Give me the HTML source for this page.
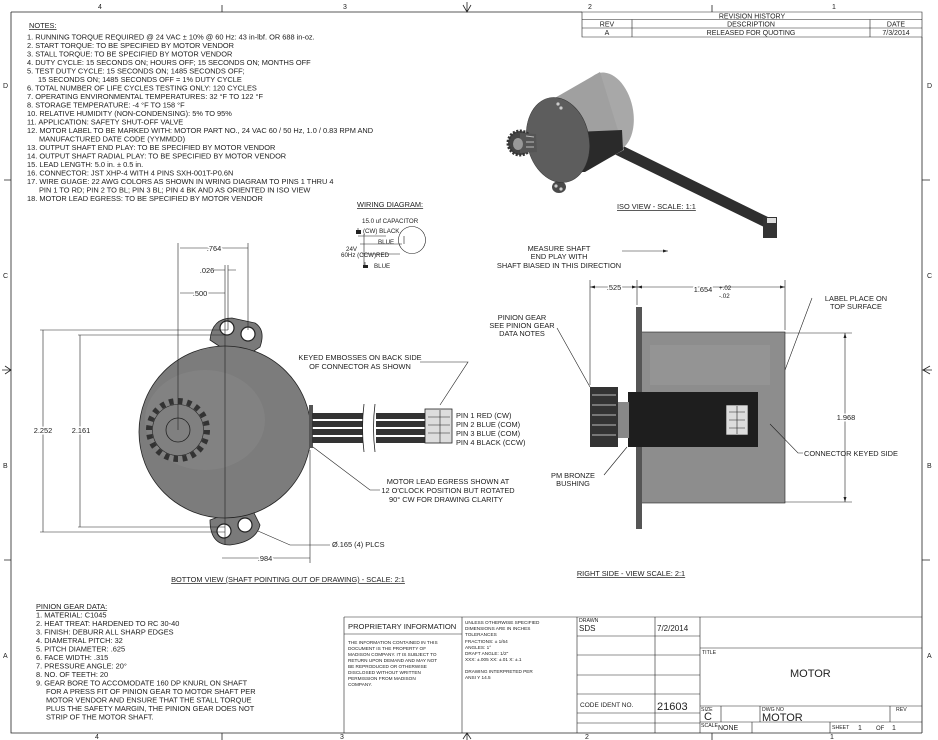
<!DOCTYPE html>
<html><head><meta charset="utf-8"><style>
html,body{margin:0;padding:0;background:#fff;}
svg{display:block;font-family:"Liberation Sans",sans-serif;}
.t{font-size:7.4px;fill:#222;}
.s{font-size:6.2px;fill:#222;}
.l{stroke:#222;stroke-width:0.8;fill:none;}
.th{stroke:#222;stroke-width:0.6;fill:none;}
</style></head><body>
<svg width="938" height="740" viewBox="0 0 938 740" xmlns="http://www.w3.org/2000/svg">
<path class="l" d="M11 12 H582 M922 37 V733 M11 12 V733 H922"/>
<g class="t" style="font-size:7px">
<text x="98" y="9">4</text><text x="343" y="9">3</text><text x="588" y="9">2</text><text x="832" y="9">1</text>
<text x="95" y="739">4</text><text x="340" y="739">3</text><text x="585" y="739">2</text><text x="830" y="739">1</text>
<text x="3" y="88">D</text><text x="3" y="278">C</text><text x="3" y="468">B</text><text x="3" y="658">A</text>
<text x="927" y="88">D</text><text x="927" y="278">C</text><text x="927" y="468">B</text><text x="927" y="658">A</text>
</g>
<path class="l" d="M222 5 V12 M712 5 V12 M222 733 V740 M712 733 V740 M4 180 H11 M4 560 H11 M922 180 H930 M922 560 H930"/>
<path class="l" d="M467 2 V12 M463 5 L467 12 L471 5 M467 733 V740 M463 739 L467 733 L471 739 M2 370 H11 M5 366 L11 370 L5 374 M922 370 H932 M930 366 L923 370 L930 374"/>
<path class="th" d="M582 12 H922 V37 H582 Z M582 19.5 H922 M582 28 H922 M632 19.5 V37 M870 19.5 V37"/>
<g class="t" style="font-size:7px" text-anchor="middle">
<text x="752" y="18.5">REVISION HISTORY</text><text x="607" y="26.5">REV</text><text x="751" y="26.5">DESCRIPTION</text><text x="896" y="26.5">DATE</text>
<text x="607" y="35">A</text><text x="751" y="35">RELEASED FOR QUOTING</text><text x="896" y="35">7/3/2014</text>
</g>
<g class="t">
<text x="29" y="28" text-decoration="underline">NOTES:</text>
<text x="27" y="39.5">1.  RUNNING TORQUE REQUIRED @ 24 VAC ± 10% @ 60 Hz:  43 in-lbf. OR 688 in-oz.</text>
<text x="27" y="48">2.  START TORQUE:  TO BE SPECIFIED BY MOTOR VENDOR</text>
<text x="27" y="56.5">3.  STALL TORQUE:  TO BE SPECIFIED BY MOTOR VENDOR</text>
<text x="27" y="65">4.  DUTY CYCLE:  15 SECONDS ON; HOURS OFF; 15 SECONDS ON; MONTHS OFF</text>
<text x="27" y="73.5">5.  TEST DUTY CYCLE:  15 SECONDS ON; 1485 SECONDS OFF;</text>
<text x="38" y="82">15 SECONDS ON; 1485 SECONDS OFF = 1% DUTY CYCLE</text>
<text x="27" y="90.5">6.  TOTAL NUMBER OF LIFE CYCLES TESTING ONLY:  120 CYCLES</text>
<text x="27" y="99">7.  OPERATING ENVIRONMENTAL TEMPERATURES:  32 °F TO 122 °F</text>
<text x="27" y="107.5">8.  STORAGE TEMPERATURE:  -4 °F TO 158 °F</text>
<text x="27" y="116">10. RELATIVE HUMIDITY (NON-CONDENSING):  5% TO 95%</text>
<text x="27" y="124.5">11. APPLICATION:  SAFETY SHUT-OFF VALVE</text>
<text x="27" y="133">12. MOTOR LABEL TO BE MARKED WITH:  MOTOR PART NO., 24 VAC 60 / 50 Hz, 1.0 / 0.83 RPM AND</text>
<text x="39" y="141.5">MANUFACTURED DATE CODE (YYMMDD)</text>
<text x="27" y="150">13. OUTPUT SHAFT END PLAY:  TO BE SPECIFIED BY MOTOR VENDOR</text>
<text x="27" y="158.5">14. OUTPUT SHAFT RADIAL PLAY:  TO BE SPECIFIED BY MOTOR VENDOR</text>
<text x="27" y="167">15. LEAD LENGTH: 5.0 in. ± 0.5 in.</text>
<text x="27" y="175.5">16. CONNECTOR:  JST XHP-4 WITH 4 PINS SXH-001T-P0.6N</text>
<text x="27" y="184">17. WIRE GUAGE:  22 AWG COLORS AS SHOWN IN WRING DIAGRAM TO PINS 1 THRU 4</text>
<text x="39" y="192.5">PIN 1 TO RD; PIN 2 TO BL; PIN 3 BL; PIN 4 BK AND AS ORIENTED IN ISO VIEW</text>
<text x="27" y="201">18. MOTOR LEAD EGRESS:  TO BE SPECIFIED BY MOTOR VENDOR</text>
</g>
<text class="t" x="357" y="207" text-decoration="underline">WIRING DIAGRAM:</text>
<circle cx="412" cy="240" r="13.5" class="th"/>
<path class="th" d="M358 228 V234 M358 236 H386 M360 244 H402 M362 254 H400 M365 266 V262 M364 234 V268 M404 236 V244"/>
<rect x="356" y="230" width="5" height="4" fill="#222"/><rect x="363" y="265" width="5" height="3" fill="#222"/>
<g class="s"><text x="362" y="223">15.0  uf  CAPACITOR</text><text x="363" y="233">(CW)  BLACK</text><text x="378" y="244">BLUE</text>
<text x="346" y="251">24V</text><text x="341" y="257">60Hz (CCW)RED</text><text x="374" y="268">BLUE</text></g>
<g>
<path d="M210 340 Q212 318 232 318 L255 323 Q266 330 260 347 L240 360 Z" fill="#7a7a7a" stroke="#222" stroke-width="0.8"/>
<path d="M210 520 Q210 545 230 545 Q256 542 260 525 L250 505 Z" fill="#7a7a7a" stroke="#222" stroke-width="0.8"/>
<circle cx="225" cy="432" r="86" fill="#7c7c7c" stroke="#222" stroke-width="0.8"/>
<ellipse cx="205" cy="420" rx="60" ry="50" fill="#878787" opacity="0.6"/>
<circle cx="227" cy="328" r="7" fill="#fff" stroke="#222" stroke-width="1.2"/>
<circle cx="248" cy="334" r="7" fill="#fff" stroke="#222" stroke-width="1.2"/>
<circle cx="224" cy="531" r="7" fill="#fff" stroke="#222" stroke-width="1.2"/>
<circle cx="245" cy="525" r="7" fill="#fff" stroke="#222" stroke-width="1.2"/>
<circle cx="178" cy="430" r="29" fill="none" stroke="#333" stroke-width="6" stroke-dasharray="4.5 4.6"/>
<circle cx="178" cy="430" r="25.5" fill="#808080" stroke="#222" stroke-width="0.6"/>
<circle cx="178" cy="430" r="12" fill="none" stroke="#222" stroke-width="0.8"/>
<rect x="309" y="405" width="4" height="43" fill="#555"/>
<g fill="#333"><rect x="312" y="413" width="51" height="6"/><rect x="312" y="421" width="51" height="6"/><rect x="312" y="429" width="51" height="6"/><rect x="312" y="437" width="51" height="6"/>
<rect x="376" y="413" width="50" height="6"/><rect x="376" y="421" width="50" height="6"/><rect x="376" y="429" width="50" height="6"/><rect x="376" y="437" width="50" height="6"/></g>
<path class="l" d="M364 404 Q361 428 364 452 M375 404 Q372 428 375 452"/>
<rect x="425" y="409" width="27" height="34" fill="#ddd" stroke="#222" stroke-width="0.8"/>
<path class="th" d="M428 417 H450 M428 425 H450 M428 433 H450 M440 410 V443"/>
</g>
<path class="th" d="M40 330 H228 M78 335 H228 M43 330 V532 M80 335 V527 M40 532 H225 M78 527 H225 M178 243 V430 M225 265 V545 M248 243 V330 M228 265 V330 M310 450 V563 M180 248 H248 M180 293 H225 M213 270 H225 M228 270 H236 M222 558 H310 M258 531 L290 545 H330 M313 447 L370 490 H380 M420 362 H468 L440 405"/>
<g class="t" text-anchor="middle"><text x="43" y="433" style="paint-order:stroke" stroke="#fff" stroke-width="3">2.252</text><text x="81" y="433" style="paint-order:stroke" stroke="#fff" stroke-width="3">2.161</text>
<text x="214" y="251" style="paint-order:stroke" stroke="#fff" stroke-width="3">.764</text><text x="207" y="273">.026</text><text x="200" y="296" style="paint-order:stroke" stroke="#fff" stroke-width="3">.500</text>
<text x="265" y="561" style="paint-order:stroke" stroke="#fff" stroke-width="3">.984</text>
<text x="360" y="360">KEYED EMBOSSES ON BACK SIDE</text><text x="360" y="369">OF CONNECTOR AS SHOWN</text>
<text x="448" y="484">MOTOR LEAD EGRESS SHOWN AT</text><text x="448" y="493">12 O'CLOCK POSITION BUT ROTATED</text><text x="446" y="502">90° CW FOR DRAWING CLARITY</text>
<text x="288" y="582" text-decoration="underline">BOTTOM VIEW (SHAFT POINTING OUT OF DRAWING) - SCALE: 2:1</text></g>
<g class="t"><text x="332" y="547">Ø.165 (4) PLCS</text>
<text x="456" y="418">PIN 1  RED (CW)</text><text x="456" y="427">PIN 2  BLUE (COM)</text><text x="456" y="436">PIN 3  BLUE (COM)</text><text x="456" y="445">PIN 4  BLACK (CCW)</text></g>
<g>
<path d="M615 142 L770 218 L766 228 L610 152 Z" fill="#2e2e2e"/>
<ellipse cx="608" cy="112" rx="25" ry="40" transform="rotate(-12 608 112)" fill="#a8a8a8"/>
<path d="M553 99 L600 72 L624 150 L562 183 Z" fill="#a0a0a0"/>
<path d="M575 132 L622 130 L623 150 L585 172 L572 172 Z" fill="#2a2a2a"/>
<ellipse cx="557" cy="104" rx="7" ry="6" fill="#4a4a4a"/>
<ellipse cx="559" cy="187" rx="7" ry="6" fill="#4a4a4a"/>
<ellipse cx="558" cy="140" rx="31" ry="43" transform="rotate(-12 558 140)" fill="#5d5d5d" stroke="#333" stroke-width="0.5"/>
<circle cx="558" cy="104" r="1.6" fill="#ccc"/><circle cx="561" cy="108" r="1.6" fill="#ccc"/>
<circle cx="556" cy="186" r="1.6" fill="#ccc"/><circle cx="561" cy="189" r="1.6" fill="#ccc"/>
<circle cx="520" cy="143" r="12" fill="#444" stroke="#333" stroke-width="3" stroke-dasharray="2 1.5"/>
<path d="M520 133 L536 134 L537 152 L520 153 Z" fill="#555"/>
<path stroke="#bbb" stroke-width="1" d="M526 136 L534 137 M526 142 L534 142 M526 147 L534 147"/>
<ellipse cx="518" cy="144" rx="5" ry="6" fill="#999"/>
<rect x="763" y="217" width="14" height="21" fill="#333"/>
<rect x="767" y="218" width="9" height="5" fill="#ddd"/>
</g>
<text class="t" x="617" y="209" text-decoration="underline">ISO VIEW - SCALE: 1:1</text>
<g>
<rect x="637" y="332" width="148" height="171" fill="#8d8d8d" stroke="#222" stroke-width="0.6"/>
<rect x="650" y="345" width="120" height="40" fill="#999" opacity="0.6"/>
<rect x="636" y="307" width="6" height="222" fill="#555"/>
<rect x="628" y="392" width="130" height="55" fill="#1e1e1e"/>
<rect x="726" y="405" width="22" height="30" fill="#ddd" stroke="#222" stroke-width="0.6"/>
<path class="th" d="M729 412 H745 M729 420 H745 M729 428 H745 M737 406 V434"/>
<rect x="617" y="402" width="12" height="36" fill="#888"/>
<rect x="590" y="387" width="28" height="60" fill="#333"/>
<path stroke="#bbb" stroke-width="1" d="M592 395 H616 M592 405 H616 M592 415 H616 M592 425 H616 M592 435 H616"/>
</g>
<path class="th" d="M590 280 V385 M637 280 V305 M785 280 V330 M590 287 H637 M637 287 H785 M785 333 H852 M785 502 H852 M845 333 V502 M622 251 H668 M812 298 L785 370 M557 328 L590 387 M604 475 L627 447 M770 424 L798 453 H803"/>
<path fill="#222" d="M668 251 l-5 -1.5 v3 Z M590 287 l5 -1.5 v3Z M637 287 l-5 -1.5 v3Z M637 287 l5 -1.5 v3Z M785 287 l-5 -1.5 v3Z M845 333 l-1.5 5 h3Z M845 502 l-1.5 -5 h3Z"/>
<g class="t" text-anchor="middle">
<text x="559" y="251">MEASURE SHAFT</text><text x="559" y="259">END PLAY WITH</text><text x="559" y="268">SHAFT BIASED IN THIS DIRECTION</text>
<text x="614" y="290" style="paint-order:stroke" stroke="#fff" stroke-width="3">.525</text>
<text x="703" y="292" style="paint-order:stroke" stroke="#fff" stroke-width="3">1.654</text>
<text x="856" y="301">LABEL PLACE ON</text><text x="856" y="309">TOP SURFACE</text>
<text x="522" y="320">PINION GEAR</text><text x="522" y="328">SEE PINION GEAR</text><text x="522" y="336">DATA NOTES</text>
<text x="846" y="420" style="paint-order:stroke" stroke="#fff" stroke-width="3">1.968</text>
<text x="573" y="478">PM BRONZE</text><text x="573" y="486">BUSHING</text>
<text x="631" y="576" text-decoration="underline">RIGHT SIDE - VIEW SCALE: 2:1</text>
</g>
<g class="s"><text x="719" y="290">+.02</text><text x="719" y="298">-.02</text></g>
<text class="t" x="804" y="456">CONNECTOR KEYED SIDE</text>
<g class="t">
<text x="36" y="609" text-decoration="underline">PINION GEAR DATA:</text>
<text x="36" y="617.5">1.  MATERIAL:  C1045</text>
<text x="36" y="626">2.  HEAT TREAT:  HARDENED TO RC 30-40</text>
<text x="36" y="634.5">3.  FINISH:  DEBURR ALL SHARP EDGES</text>
<text x="36" y="643">4.  DIAMETRAL PITCH:  32</text>
<text x="36" y="651.5">5.  PITCH DIAMETER:  .625</text>
<text x="36" y="660">6.  FACE WIDTH:  .315</text>
<text x="36" y="668.5">7.  PRESSURE ANGLE:  20°</text>
<text x="36" y="677">8.  NO. OF TEETH:  20</text>
<text x="36" y="685.5">9.  GEAR BORE TO ACCOMODATE 160 DP KNURL ON SHAFT</text>
<text x="46" y="694">FOR A PRESS FIT OF PINION GEAR TO MOTOR SHAFT PER</text>
<text x="46" y="702.5">MOTOR VENDOR AND ENSURE THAT THE STALL TORQUE</text>
<text x="46" y="711">PLUS THE SAFETY MARGIN, THE PINION GEAR DOES NOT</text>
<text x="46" y="719.5">STRIP OF THE MOTOR SHAFT.</text>
</g>
<path class="th" d="M344 617 H922 M344 617 V733 M462 617 V733 M577 617 V733 M655 617 V733 M700 617 V733 M344 634 H462 M577 636 H700 M577 655 H700 M577 675 H700 M577 694 H700 M577 713 H700 M577 723 H700 M700 648 H922 M700 706 H922 M700 722 H922 M721 706 V722 M760 706 V722 M890 706 V722 M752 722 V733 M830 722 V733"/>
<g class="t">
<text x="348" y="629" style="font-size:7.6px">PROPRIETARY INFORMATION</text>
<g style="font-size:4.7px;fill:#222">
<text x="348" y="644">THE INFORMATION CONTAINED IN THIS</text><text x="348" y="650">DOCUMENT IS THE PROPERTY OF</text><text x="348" y="656">MADISON COMPANY.  IT IS SUBJECT TO</text>
<text x="348" y="662">RETURN UPON DEMAND AND MAY NOT</text><text x="348" y="668">BE REPRODUCED OR OTHERWISE</text><text x="348" y="674">DISCLOSED WITHOUT WRITTEN</text>
<text x="348" y="680">PERMISSION FROM MADISON</text><text x="348" y="686">COMPANY.</text>
<text x="465" y="624">UNLESS OTHERWISE SPECIFIED</text><text x="465" y="630">DIMENSIONS ARE IN INCHES</text><text x="465" y="636">TOLERANCES</text>
<text x="465" y="643">FRACTIONS: ± 1/64</text><text x="465" y="649">ANGLES: 1°</text><text x="465" y="655">DRAFT ANGLE: 1/2"</text><text x="465" y="661">XXX: ±.005  XX: ±.01  X: ±.1</text>
<text x="465" y="673">DRAWING INTERPRETED PER</text><text x="465" y="679">ANSI Y 14.5</text>
</g>
<g style="font-size:5.2px;fill:#222">
<text x="579" y="622">DRAWN</text><text x="702" y="654">TITLE</text><text x="701" y="711">SIZE</text><text x="762" y="711">DWG NO</text><text x="896" y="711">REV</text>
<text x="701" y="727">SCALE</text><text x="832" y="729">SHEET</text>
</g>
<text x="579" y="631" style="font-size:8px">SDS</text><text x="657" y="631" style="font-size:8px">7/2/2014</text>
<text x="580" y="707" style="font-size:6.5px">CODE IDENT NO.</text>
<text x="657" y="710" style="font-size:11px">21603</text>
<text x="704" y="720" style="font-size:11px">C</text>
<text x="762" y="721" style="font-size:11px">MOTOR</text>
<text x="790" y="677" style="font-size:11px">MOTOR</text>
<text x="718" y="730" style="font-size:7px">NONE</text>
<text x="858" y="730" style="font-size:7px">1</text><text x="876" y="730" style="font-size:6px">OF</text><text x="892" y="730" style="font-size:7px">1</text>
</g>
</svg>
</body></html>
